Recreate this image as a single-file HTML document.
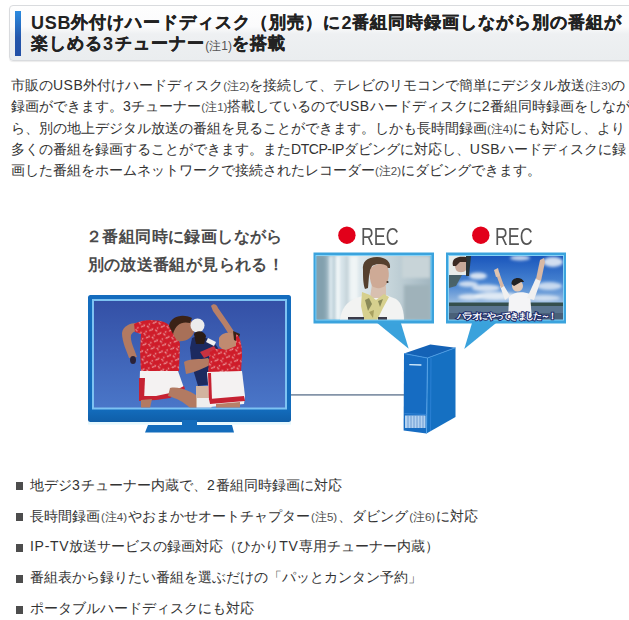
<!DOCTYPE html>
<html lang="ja"><head><meta charset="utf-8">
<style>
html,body{margin:0;padding:0;background:#fff;}
body{width:629px;height:620px;overflow:hidden;position:relative;font-family:"Liberation Sans",sans-serif;}
.hbox{position:absolute;left:9px;top:5px;width:640px;height:54px;border:1px solid #d9dbde;border-radius:4px;
 background:linear-gradient(#fefefe 0%,#fbfbfc 38%,#eef0f2 52%,#eaedef 100%);box-shadow:0 1px 1px rgba(0,0,0,.08);}
.bar{position:absolute;left:15px;top:11px;width:6px;height:45px;background:linear-gradient(#2b8be0,#2456ab 60%,#2350a6);}
.htxt{position:absolute;left:31px;top:14px;font-size:18px;font-weight:bold;line-height:19.5px;color:#222;white-space:nowrap;}
.htxt small{font-size:12px;letter-spacing:0;font-weight:normal;color:#555;line-height:0;}
.htxt i{font-style:normal;letter-spacing:.8px;}
.htxt b{font-size:16.5px;letter-spacing:1px;position:relative;top:-1.3px;-webkit-text-stroke:.35px #222;}
.body{position:absolute;left:11px;top:75px;font-size:14px;line-height:21.3px;color:#333;white-space:nowrap;}
.body small{font-size:11.5px;line-height:0;color:#505050;}
.body i{font-style:normal;letter-spacing:.5px;}
.body i.m{letter-spacing:-.45px;}
.li i{font-style:normal;letter-spacing:1.2px;}
.li i.n{letter-spacing:.7px;}
.cap{position:absolute;font-size:16px;letter-spacing:.4px;font-weight:bold;color:#4a4a4a;white-space:nowrap;line-height:20px;}
.rec{position:absolute;font-size:23px;color:#555;white-space:nowrap;line-height:26px;transform-origin:0 0;transform:scaleX(.775);}
.list{position:absolute;left:0;top:0;}
.li{position:absolute;left:30px;font-size:14px;color:#333;white-space:nowrap;line-height:20px;}
.li small{font-size:11.5px;line-height:0;margin:0 1px;color:#505050;}
.sq{position:absolute;left:16px;width:7px;height:7.5px;background:#4d4d4d;}
svg{position:absolute;left:0;top:0;}
</style></head><body>
<div class="hbox"></div>
<div class="bar"></div>
<div class="htxt"><i>USB</i><b>外付けハードディスク（別売）に</b><i>2</i><b>番組同時録画しながら別の番組が</b><br><span style="position:relative;top:1.5px"><b>楽しめる</b><i style="letter-spacing:1.6px">3</i><b>チューナー</b><small style="margin:0 .6px 0 .6px">(注1)</small><b>を搭載</b></span></div>

<div class="body">市販の<i>USB</i>外付けハードディスク<small>(注2)</small>を接続して、テレビのリモコンで簡単にデジタル放送<small>(注3)</small>の<br>録画ができます。<i>3</i>チューナー<small>(注1)</small>搭載しているので<i>USB</i>ハードディスクに<i>2</i>番組同時録画をしなが<br>ら、別の地上デジタル放送の番組を見ることができます。しかも長時間録画<small>(注4)</small>にも対応し、より<br>多くの番組を録画することができます。また<i class="m">DTCP-IP</i>ダビングに対応し、<i>USB</i>ハードディスクに録<br>画した番組をホームネットワークで接続されたレコーダー<small>(注2)</small>にダビングできます。</div>

<svg width="629" height="620" viewBox="0 0 629 620">
 <defs>
  <linearGradient id="sky" x1="0" y1="0" x2="0" y2="1"><stop offset="0" stop-color="#3450a6"/><stop offset="1" stop-color="#4a76c8"/></linearGradient>
  <linearGradient id="sky2" x1="0" y1="0" x2="0" y2="1"><stop offset="0" stop-color="#1a56bc"/><stop offset=".45" stop-color="#4a86d2"/><stop offset=".8" stop-color="#a9c6e4"/><stop offset="1" stop-color="#c8d8e8"/></linearGradient>
  <linearGradient id="office" x1="0" y1="0" x2="1" y2="0"><stop offset="0" stop-color="#86a2b0"/><stop offset=".1" stop-color="#9ab4c0"/><stop offset=".2" stop-color="#d4e2e8"/><stop offset=".4" stop-color="#dce6ea"/><stop offset=".7" stop-color="#c0d0d6"/><stop offset="1" stop-color="#a2b6c0"/></linearGradient>
  <linearGradient id="tvc" x1="0" y1="0" x2="0" y2="1"><stop offset="0" stop-color="#146cbe"/><stop offset=".9" stop-color="#136cbc"/><stop offset="1" stop-color="#0f5ea8"/></linearGradient>
  <filter id="bl" x="-10%" y="-10%" width="120%" height="120%"><feGaussianBlur stdDeviation="0.7"/></filter>
  <filter id="bl2" x="-20%" y="-20%" width="140%" height="140%"><feGaussianBlur stdDeviation="1.4"/></filter>
  <clipPath id="c1"><rect x="316.5" y="256" width="114" height="63.5"/></clipPath>
  <clipPath id="c2"><rect x="449" y="256" width="114" height="63.5"/></clipPath>
  <clipPath id="c0"><rect x="94" y="301" width="191" height="106.5"/></clipPath>
  <pattern id="spk" width="9" height="8" patternUnits="userSpaceOnUse" patternTransform="rotate(25)">
   <path d="M1,1 l2.5,1.2 M5,4.5 l1.8,-1.5 M2,6 l1,1.5 M7,1 l.5,1.8" stroke="#f6d0d0" stroke-width="1.1" opacity=".7"/>
  </pattern>
 </defs>
 <!-- connection line -->
 <line x1="290" y1="394.9" x2="404" y2="394.9" stroke="#8494a8" stroke-width="1.7"/>
 <!-- TV -->
 <rect x="88" y="295" width="203" height="127" rx="2.5" fill="url(#tvc)"/>
 <rect x="92" y="299" width="195" height="110.5" fill="#7dc2f2"/>
 <rect x="94" y="301" width="191" height="106.5" fill="url(#sky)"/>
 <rect x="88" y="422" width="94" height="2.6" fill="#e6f8fd"/>
 <rect x="197" y="422" width="94" height="2.6" fill="#e6f8fd"/>
 <rect x="182" y="420" width="15" height="6" fill="#136cbc"/>
 <polygon points="148,425 232,425 234,432.5 145,432.5" fill="#136cbc"/>
 <g clip-path="url(#c0)" filter="url(#bl)">
  <!-- player 1 arm -->
  <path d="M137,323 C130,323 123,326 122,333 C122,342 127,352 129,358 L137,357 C134,348 130,341 131,335 C133,331 138,330 141,330 Z" fill="#b27a62"/>
  <ellipse cx="133" cy="360" rx="3" ry="4" fill="#2a2438"/>
  <!-- player 1 sleeve + shirt -->
  <path d="M134,324 C142,319 156,319 164,322 C172,326 178,332 180,344 L179,371 L141,372 L140,350 L141,334 L135,332 Z" fill="#cf1f2c"/>
  <path d="M134,324 C142,319 156,319 164,322 C172,326 178,332 180,344 L179,371 L141,372 L140,350 L141,334 L135,332 Z" fill="url(#spk)"/>
  <!-- player 1 head -->
  <path d="M172,322 C176,316 188,316 192,322 L194,332 C192,338 186,342 178,341 C174,338 171,330 172,322 Z" fill="#a87058"/>
  <path d="M169,326 C170,317 182,313 192,318 L190,323 C182,321 176,324 173,334 Z" fill="#3a2418"/>
  <!-- ball -->
  <circle cx="197.5" cy="325.5" r="7" fill="#ececec"/>
  <!-- player 1 shorts -->
  <path d="M140,371 L178,371 L184,388 L170,396 L156,399 L139,400 Z" fill="#f4f2f2"/>
  <path d="M139,396 L156,396 L170,393 L184,386 L185,389 L170,398 L156,400 L139,401 Z" fill="#c62232"/>
  <path d="M139,378 L145,378 L144,400 L139,400 Z" fill="#c62232"/>
  <!-- player 1 legs -->
  <path d="M141,400 L152,399 L150,408 L141,408 Z" fill="#b27a62"/>
  <path d="M170,388 C180,386 192,392 200,398 L206,408 L190,408 C184,402 176,398 168,396 Z" fill="#b27a62"/>
  <!-- player 2 -->
  <path d="M192,338 C200,334 212,338 218,348 L220,364 L214,384 L198,386 L192,366 L190,348 Z" fill="#1e2a5e"/>
  <path d="M200,352 L214,346 L218,352 L204,358 Z" fill="#c83040"/>
  <path d="M208,338 L216,342 L214,346 L206,342 Z" fill="#f0f0f0"/>
  <path d="M194,334 C196,330 204,330 206,336 L204,344 L196,344 Z" fill="#2a1a14"/>
  <path d="M196,386 L212,386 L212,408 L196,408 Z" fill="#d2b4a0"/>
  <path d="M197,398 L211,398 L211,408 L197,408 Z" fill="#eeeeee"/>
  <!-- hands cluster -->
  <path d="M184,362 C190,358 200,360 208,358 L212,364 C204,368 196,372 186,374 Z" fill="#b27a62"/>
  <!-- player 3 raised arm -->
  <path d="M211,306 C213,303 217,304 218,308 L227,321 L235,333 L230,336 L223,325 L213,311 Z" fill="#b88068"/>
  <!-- player 3 head -->
  <path d="M219,338 C222,332 232,331 236,336 L236,348 L224,351 L219,346 Z" fill="#c08a70"/>
  <path d="M233,331 L240,334 L238,342 L234,340 Z" fill="#3a2418"/>
  <!-- player 3 shirt -->
  <path d="M210,352 C214,348 220,348 226,350 L236,346 L236,334 C240,336 242,344 242,356 L241,372 L208,374 L209,360 Z" fill="#cf1f2c"/>
  <path d="M210,352 C214,348 220,348 226,350 L236,346 L236,334 C240,336 242,344 242,356 L241,372 L208,374 L209,360 Z" fill="url(#spk)"/>
  <!-- player 3 shorts -->
  <path d="M207,372 L242,371 L245,396 L244,404 L210,407 Z" fill="#f4f2f2"/>
  <path d="M209,399 L244,396 L245,401 L210,404 Z" fill="#c62232"/>
  <path d="M208,373 L211,373 L212,400 L209,400 Z" fill="#c62232"/>
  <path d="M216,404 L240,402 L240,408 L216,408 Z" fill="#b88068"/>
 </g>
 <!-- triangles -->
 <polygon points="376,322 400.6,322 408.7,348.7" fill="#3aa2dc"/>
 <polygon points="472.3,322 497.3,322 464.3,349.1" fill="#3aa2dc"/>
 <!-- monitor 1 -->
 <rect x="313.5" y="252.5" width="120.5" height="71" fill="#3ba3dd"/>
 <rect x="316.5" y="256" width="114" height="63.5" fill="url(#office)"/>
 <rect x="316" y="255.5" width="115" height="64.5" fill="none" stroke="#86d2f6" stroke-width="1"/>
 <g clip-path="url(#c1)">
  <g filter="url(#bl2)">
   <rect x="316" y="256" width="9" height="64" fill="#82a0ae"/>
   <rect x="329" y="256" width="4" height="64" fill="#dce8ee"/>
   <rect x="336" y="256" width="4" height="64" fill="#f4f8f9"/>
   <rect x="345" y="256" width="3" height="64" fill="#c4d2d8"/>
   <rect x="350" y="256" width="8" height="45" fill="#f0f5f6"/>
   <rect x="402" y="256" width="28" height="22" fill="#c8d4d8"/>
   <rect x="404" y="285" width="26" height="35" fill="#9fb2ba"/>
  </g>
  <g filter="url(#bl)">
   <!-- jacket -->
   <path d="M340,320 C341,310 346,302 356,298 L366,295 L386,295 L396,299 C402,303 404,312 404,320 Z" fill="#f2f3f2"/>
   <!-- neck -->
   <path d="M372,284 L386,286 L386,298 L370,298 Z" fill="#d8c0b0"/>
   <!-- scarf -->
   <path d="M362,292 L370,295 L376,300 L384,294 L389,297 L383,308 L377,320 L364,320 L361,306 Z" fill="#d6d08e"/>
   <path d="M365,300 L369,298 L372,304 L368,311 Z" fill="#8a8a58"/>
   <path d="M378,301 L383,299 L380,307 Z" fill="#8a8a58"/>
   <path d="M369,312 L374,310 L373,318 Z" fill="#a8a060"/>
   <path d="M348,317 L364,317 L364,320 L348,320 Z" fill="#3a3a4a"/>
   <path d="M378,317 L387,317 L387,320 L378,320 Z" fill="#3a3a4a"/>
   <!-- hair -->
   <path d="M363,270 C362,262 367,257 377,257 C386,257 391,262 390,268 L387,268 C383,264 377,263 372,266 L369,276 L368,288 L365,289 C363,284 363,276 363,270 Z" fill="#54402f"/>
   <!-- face -->
   <path d="M370,270 C372,264 382,262 387,266 C390,272 389,280 386,285 C382,289 376,289 372,286 C370,281 369,275 370,270 Z" fill="#ceaa96"/>
   <circle cx="387.5" cy="282" r="1.1" fill="#3a2a20"/>
  </g>
 </g>
 <!-- monitor 2 -->
 <rect x="446" y="252.5" width="120" height="71" fill="#3ba3dd"/>
 <rect x="449" y="256" width="114" height="63.5" fill="url(#sky2)"/>
 <rect x="448.5" y="255.5" width="115" height="64.5" fill="none" stroke="#86d2f6" stroke-width="1"/>
 <g clip-path="url(#c2)">
  <g filter="url(#bl2)" fill="#f0f4f8">
   <ellipse cx="478" cy="276" rx="9" ry="3.5" opacity=".85"/>
   <ellipse cx="468" cy="284" rx="10" ry="3" opacity=".8"/>
   <ellipse cx="486" cy="288" rx="14" ry="3.5" opacity=".8"/>
   <ellipse cx="496" cy="296" rx="22" ry="4" opacity=".85"/>
   <ellipse cx="470" cy="297" rx="12" ry="3" opacity=".8"/>
   <ellipse cx="520" cy="258" rx="10" ry="2.5" opacity=".8"/>
   <ellipse cx="553" cy="262" rx="10" ry="5" opacity=".85"/>
   <ellipse cx="549" cy="286" rx="13" ry="4" opacity=".75"/>
   <ellipse cx="544" cy="298" rx="16" ry="3" opacity=".7"/>
  </g>
  <g filter="url(#bl)">
   <rect x="449" y="302.5" width="114" height="3.5" fill="#34504e"/>
   <rect x="449" y="306" width="114" height="14" fill="#5a7490"/>
   <rect x="449" y="313" width="114" height="7" fill="#4a6078"/>
   <!-- inset -->
   <rect x="449" y="256" width="19" height="19" fill="#e8ecea"/>
   <path d="M466,256 L471,256 L469,276 L466,276 Z" fill="#2a3438"/>
   <path d="M454,264 C454,258 460,257 466,259 L466,270 C464,273 458,273 456,270 Z" fill="#c8a898"/>
   <path d="M453,266 C451,258 458,256 466,257 L467,262 L460,262 L456,266 Z" fill="#3a2a24"/>
   <path d="M449,275 L462,275 L456,286 L449,288 Z" fill="#4a5a50" opacity=".8"/>
   <!-- person -->
   <path d="M509,297 C513,292 522,291 530,294 L532,320 L508,320 Z" fill="#f4f4f6"/>
   <path d="M505,300 L500,286 L503,284 L510,296 Z" fill="#f0f0f0"/>
   <path d="M501,288 L496,274 L499,272 L504,286 Z" fill="#d8b8a4"/>
   <path d="M494,270 L498,268 L500,276 L496,277 Z" fill="#e0c4b0"/>
   <path d="M527,298 L536,278 L541,280 L534,300 Z" fill="#f0f0f0"/>
   <path d="M536,279 L540,260 L544,258 L545,262 L541,281 Z" fill="#d8b8a4"/>
   <circle cx="517.5" cy="286" r="5.5" fill="#e2c8b4"/>
   <path d="M511.5,284 C511,277 522,276 524,282 L521,282 L514,286 Z" fill="#202024"/>
  </g>
 </g>
 <text x="456.5" y="319.2" font-size="8.6" font-weight="bold" fill="#fff" stroke="#1c2a6a" stroke-width="2" paint-order="stroke" letter-spacing="-1.35">パラオにやってきました～！</text>
 <!-- REC dots -->
 <circle cx="346.9" cy="235.2" r="8.7" fill="#e2001a"/>
 <circle cx="480.8" cy="235.2" r="8.7" fill="#e2001a"/>
 <!-- HDD -->
 <polygon points="404,353.5 430.3,344.5 455.5,347.7 427.5,358" fill="#1462b6"/>
 <polygon points="427.5,358 455.5,347.7 455.5,417 426.5,433.5" fill="#1570c2"/>
 <polygon points="404,353.5 427.5,358 426.5,433.5 403.6,430.5" fill="#166cc2"/>
 <polyline points="404,353.5 427.5,358 455.5,347.7" fill="none" stroke="#4a9ae2" stroke-width="1"/>
 <line x1="427.5" y1="358" x2="426.5" y2="433.5" stroke="#56a4e8" stroke-width="1"/>
 <line x1="431" y1="358" x2="430.5" y2="431" stroke="#2a80d4" stroke-width="1"/>
 <line x1="404.5" y1="413.5" x2="426.5" y2="414.5" stroke="#3a88d8" stroke-width=".8"/>
 <line x1="409.3" y1="364.6" x2="421.4" y2="365" stroke="#d4ecfc" stroke-width="1.3"/>
 <rect x="405" y="415.5" width="20.5" height="12.5" fill="#b4d2f0"/>
 <g stroke="#5a8ecc" stroke-width=".8">
  <line x1="408" y1="415.5" x2="408" y2="428"/><line x1="411" y1="415.5" x2="411" y2="428"/><line x1="414" y1="415.5" x2="414" y2="428"/><line x1="417" y1="415.5" x2="417" y2="428"/><line x1="420" y1="415.5" x2="420" y2="428"/><line x1="423" y1="415.5" x2="423" y2="428"/>
 </g>
</svg>

<div class="cap" style="left:86px;top:227.2px;">２番組同時に録画しながら</div>
<div class="cap" style="left:87.5px;top:254.6px;">別の放送番組が見られる！</div>
<div class="rec" style="left:361px;top:223.5px;">REC</div>
<div class="rec" style="left:495px;top:223.5px;">REC</div>

<div class="sq" style="top:482px"></div>
<div class="li" style="top:474.6px">地デジ<i>3</i>チューナー内蔵で、<i>2</i>番組同時録画に対応</div>
<div class="sq" style="top:513px"></div>
<div class="li" style="top:505.5px">長時間録画<small>(注4)</small>やおまかせオートチャプター<small>(注5)</small>、ダビング<small>(注6)</small>に対応</div>
<div class="sq" style="top:544px"></div>
<div class="li" style="top:536.4px"><i class="n">IP-TV</i>放送サービスの録画対応（ひかり<i class="n">TV</i>専用チューナー内蔵）</div>
<div class="sq" style="top:575px"></div>
<div class="li" style="top:567.3px">番組表から録りたい番組を選ぶだけの「パッとカンタン予約」</div>
<div class="sq" style="top:606px"></div>
<div class="li" style="top:598.2px">ポータブルハードディスクにも対応</div>
</body></html>
